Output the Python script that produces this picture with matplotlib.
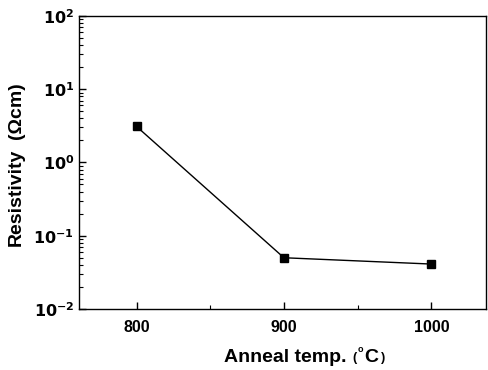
import matplotlib
matplotlib.use("Agg")
import matplotlib.pyplot as plt
from matplotlib.ticker import LogLocator, MultipleLocator, NullFormatter

plt.rcParams['font.family'] = ['Liberation Sans', 'DejaVu Sans']

# data
temps = [800, 900, 1000]
resistivity = [3.1, 0.05, 0.041]

y_ticks = [1e-2, 1e-1, 1e0, 1e1, 1e2]
y_tick_labels = [r'$\mathbf{10^{-2}}$', r'$\mathbf{10^{-1}}$', r'$\mathbf{10^{0}}$',
                 r'$\mathbf{10^{1}}$', r'$\mathbf{10^{2}}$']
x_ticks = [800, 900, 1000]

fig = plt.figure(figsize=(4.89, 3.70), dpi=100)
ax = fig.add_axes([0.1616, 0.165, 0.832, 0.792])

ax.plot(temps, resistivity, color='black', lw=1.0, marker='s', ms=5.5,
        markerfacecolor='black')

ax.set_yscale('log')
ax.set_ylim(1e-2, 1e2)
ax.set_xlim(761, 1037)

ax.set_yticks(y_ticks)
ax.set_yticklabels(y_tick_labels)
ax.yaxis.set_minor_locator(LogLocator(base=10, subs=range(2, 10), numticks=20))
ax.yaxis.set_minor_formatter(NullFormatter())
ax.set_xticks(x_ticks)
ax.set_xticklabels([str(t) for t in x_ticks], fontweight='bold')
ax.xaxis.set_minor_locator(MultipleLocator(50))

ax.tick_params(axis='both', which='major', direction='in', length=5, width=1,
               labelsize=11.5, top=False, right=False)
ax.tick_params(axis='both', which='minor', direction='in', length=3, width=0.8,
               top=False, right=False)
ax.tick_params(axis='x', pad=8)
for s in ax.spines.values():
    s.set_linewidth(1.0)

# axis labels built from pieces, parts in parentheses are smaller
fig.text(16 / 489, 1 - 197 / 370, 'Resistivity', rotation=90, fontsize=14,
         fontweight='bold', ha='center', va='center')
fig.text(17 / 489, 1 - 111 / 370, '(\u03a9cm)', rotation=90, fontsize=14,
         fontweight='bold', ha='center', va='center')
fig.text(347 / 489, 1 - 357 / 370, 'Anneal temp.', fontsize=14,
         fontweight='bold', ha='right', va='center')
fig.text(352 / 489, 1 - 358 / 370, '(', fontsize=9, fontweight='bold',
         ha='left', va='center')
fig.text(358 / 489, 1 - 349 / 370, 'o', fontsize=6.5, fontweight='bold',
         ha='left', va='center')
fig.text(364 / 489, 1 - 357 / 370, 'C', fontsize=14, fontweight='bold',
         ha='left', va='center')
fig.text(381 / 489, 1 - 358 / 370, ')', fontsize=9, fontweight='bold',
         ha='left', va='center')

fig.savefig('out.png', dpi=100)
